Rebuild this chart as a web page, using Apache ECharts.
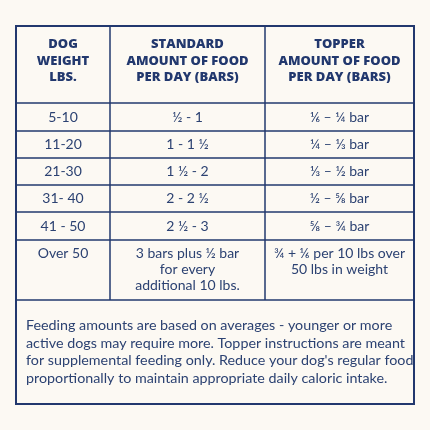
<!DOCTYPE html>
<html><head><meta charset="utf-8">
<script src="https://cdn.jsdelivr.net/npm/echarts@6/dist/echarts.min.js"></script>
<style>html,body{margin:0;padding:0;background:#fcf9f3}#c{width:430px;height:430px}</style>
</head><body><div id="c"></div>
<script>
const headers = ['DOG\nWEIGHT\nLBS.', 'STANDARD\nAMOUNT OF FOOD\nPER DAY (BARS)', 'TOPPER\nAMOUNT OF FOOD\nPER DAY (BARS)'];
const weights = ['5-10', '11-20', '21-30', '31- 40', '41 - 50', 'Over 50'];
const standard = ['½ - 1', '1 - 1 ½', '1 ½ - 2', '2 - 2 ½', '2 ½ - 3', '3 bars plus ½ bar\nfor every\nadditional 10 lbs.'];
const topper = ['⅙ – ¼ bar', '¼ – ⅓ bar', '⅓ – ½ bar', '½ – ⅝ bar', '⅝ – ¾ bar', '¾ + ⅙ per 10 lbs over\n50 lbs in weight'];
const footnote = 'Feeding amounts are based on averages - younger or more\nactive dogs may require more. Topper instructions are meant\nfor supplemental feeding only. Reduce your dog\'s regular food\nproportionally to maintain appropriate daily caloric intake.';

const navy = '#22386e', txt = '#2c4272';
const X0 = 16, X1 = 414, colX = [16, 110, 265, 414];
const rowY = [26, 103, 131, 158, 185, 212, 240, 300, 404];
const els = [];
els.push({type:'rect', shape:{x:X0,y:26,width:X1-X0,height:378}, style:{fill:'#fcf9f3', stroke:navy, lineWidth:2}});
for (let i = 1; i < rowY.length - 1; i++)
  els.push({type:'line', shape:{x1:X0,y1:rowY[i],x2:X1,y2:rowY[i]}, style:{stroke:navy, lineWidth:1.5}});
for (let j = 1; j < 3; j++)
  els.push({type:'line', shape:{x1:colX[j],y1:26,x2:colX[j],y2:300}, style:{stroke:navy, lineWidth:1.5}});
const cx = j => (colX[j] + colX[j+1]) / 2;
headers.forEach((h, j) => els.push({type:'text', x:cx(j), y:61, style:{text:h, fill:navy, font:'800 13px "Open Sans"', align:'center', verticalAlign:'middle', lineHeight:16.5}}));
const cols = [weights, standard, topper];
for (let r = 0; r < weights.length; r++) {
  cols.forEach((col, j) => {
    const last = r === weights.length - 1;
    els.push({type:'text', x:cx(j), y: last ? 245 : (rowY[r+1] + rowY[r+2]) / 2,
      style:{text:col[r], fill:txt, font:'14px Lato', align:'center', verticalAlign: last ? 'top' : 'middle', lineHeight:16.3}});
  });
}
els.push({type:'text', x:26, y:352, style:{text:footnote, fill:txt, font:'14.3px Lato', align:'left', verticalAlign:'middle', lineHeight:17.5}});

const chart = echarts.init(document.getElementById('c'));
chart.setOption({backgroundColor:'#fcf9f3', graphic:{elements:els}});
</script></body></html>
